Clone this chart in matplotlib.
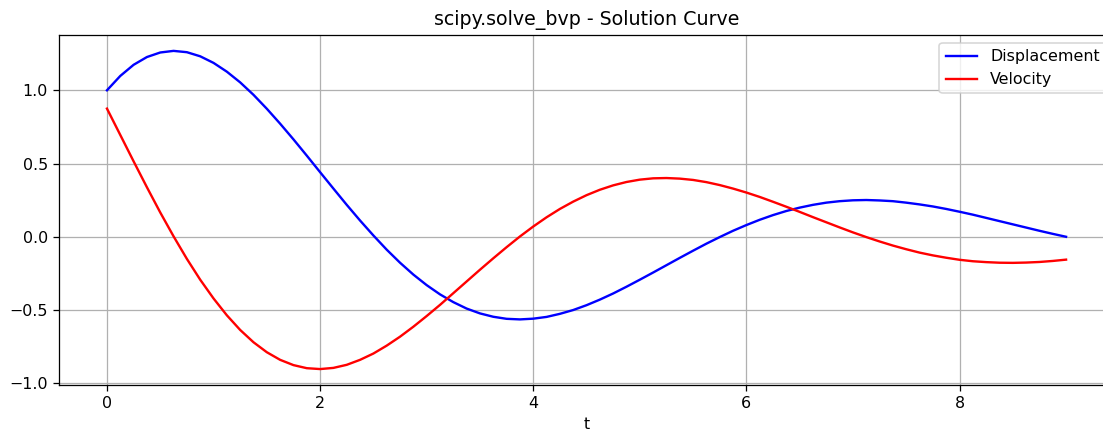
"""Solution curve of the boundary value problem (displacement and velocity)."""

import matplotlib
matplotlib.use("Agg")
import matplotlib.pyplot as plt

# values, t from 0 to 9 in steps of 0.125
t = [0.0, 0.125, 0.25, 0.375, 0.5, 0.625, 0.75, 0.875,
     1.0, 1.125, 1.25, 1.375, 1.5, 1.625, 1.75, 1.875,
     2.0, 2.125, 2.25, 2.375, 2.5, 2.625, 2.75, 2.875,
     3.0, 3.125, 3.25, 3.375, 3.5, 3.625, 3.75, 3.875,
     4.0, 4.125, 4.25, 4.375, 4.5, 4.625, 4.75, 4.875,
     5.0, 5.125, 5.25, 5.375, 5.5, 5.625, 5.75, 5.875,
     6.0, 6.125, 6.25, 6.375, 6.5, 6.625, 6.75, 6.875,
     7.0, 7.125, 7.25, 7.375, 7.5, 7.625, 7.75, 7.875,
     8.0, 8.125, 8.25, 8.375, 8.5, 8.625, 8.75, 8.875, 9.0]

displacement = [1.000, 1.098, 1.174, 1.227, 1.258, 1.269, 1.260, 1.232,
                1.187, 1.127, 1.054, 0.969, 0.874, 0.772, 0.665, 0.554,
                0.441, 0.329, 0.218, 0.111, 0.009, -0.088, -0.177, -0.258,
                -0.330, -0.393, -0.446, -0.490, -0.523, -0.546, -0.560, -0.564,
                -0.559, -0.547, -0.526, -0.500, -0.467, -0.429, -0.387, -0.341,
                -0.293, -0.244, -0.194, -0.144, -0.095, -0.047, -0.002, 0.041,
                0.080, 0.116, 0.148, 0.176, 0.199, 0.218, 0.233, 0.243,
                0.249, 0.251, 0.248, 0.243, 0.233, 0.221, 0.207, 0.190,
                0.171, 0.151, 0.129, 0.107, 0.085, 0.063, 0.041, 0.020, 0.000]

velocity = [0.875, 0.695, 0.515, 0.338, 0.166, 0.003, -0.151, -0.293,
            -0.421, -0.536, -0.636, -0.720, -0.788, -0.840, -0.876, -0.897,
            -0.903, -0.895, -0.874, -0.840, -0.797, -0.743, -0.682, -0.614,
            -0.541, -0.465, -0.385, -0.305, -0.225, -0.147, -0.071, 0.002,
            0.070, 0.133, 0.190, 0.240, 0.284, 0.321, 0.351, 0.374,
            0.390, 0.399, 0.401, 0.397, 0.388, 0.373, 0.353, 0.329,
            0.302, 0.272, 0.239, 0.205, 0.170, 0.134, 0.099, 0.064,
            0.030, -0.002, -0.032, -0.060, -0.085, -0.108, -0.127, -0.143,
            -0.157, -0.167, -0.173, -0.177, -0.178, -0.176, -0.172, -0.165, -0.156]

DPI = 114
fig = plt.figure(figsize=(1103 / DPI, 435 / DPI), dpi=DPI)
# the right edge of the axes runs slightly past the saved image, as in the reference
ax = fig.add_axes([0.0535, 0.115, 0.9565, 0.8046])

ax.plot(t, displacement, color='blue', label='Displacement')
ax.plot(t, velocity, color='red', label='Velocity')

ax.set_title("scipy.solve_bvp - Solution Curve")
ax.set_xlabel("t")
ax.legend(loc='upper right')
ax.grid(True)

fig.savefig("out.png", dpi=DPI)
print("Saved to out.png")
